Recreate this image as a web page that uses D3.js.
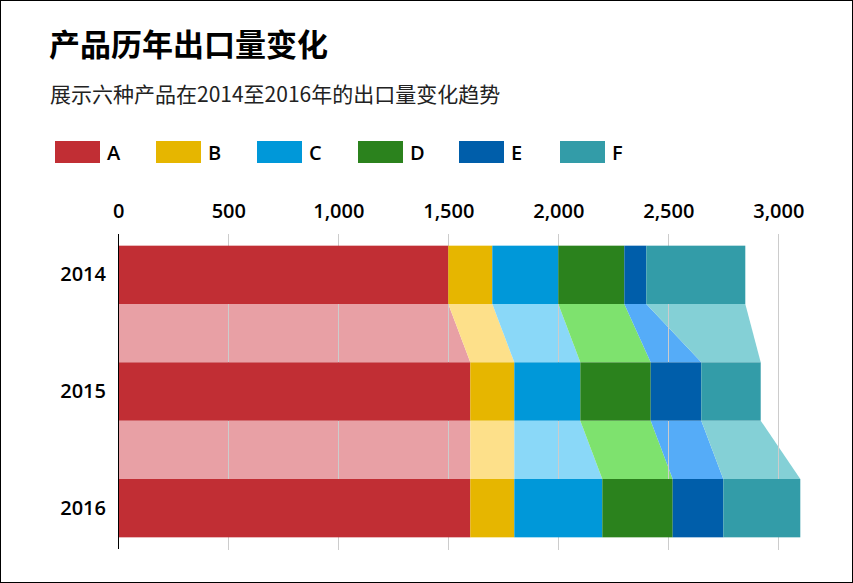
<!DOCTYPE html>
<html>
<head>
<meta charset="utf-8">
<script src="https://cdn.jsdelivr.net/npm/d3@7"></script>
<style>
html,body{margin:0;padding:0;background:#fff;}
svg{display:block;}
</style>
</head>
<body>
<svg id="chart" width="853" height="583"></svg>
<script>
const years = ["2014", "2015", "2016"];
const products = ["A", "B", "C", "D", "E", "F"];
const valuesA = [1500, 1600, 1600];
const valuesB = [200, 200, 200];
const valuesC = [300, 300, 400];
const valuesD = [300, 320, 320];
const valuesE = [100, 230, 230];
const valuesF = [450, 270, 350];
const barColors = ["#c12e34", "#e6b600", "#0098d9", "#2b821d", "#005eaa", "#339ca8"];
const linkColors = ["#e8a0a5", "#fde08a", "#8ad8f8", "#7ee26e", "#55acf8", "#84d0d6"];
const xTicks = [0, 500, 1000, 1500, 2000, 2500, 3000];
const titleText = "产品历年出口量变化";
const subtitleText = "展示六种产品在2014至2016年的出口量变化趋势";

const seriesValues = [valuesA, valuesB, valuesC, valuesD, valuesE, valuesF];
const table = years.map((y, i) => {
  const row = {year: y};
  products.forEach((p, j) => row[p] = seriesValues[j][i]);
  return row;
});
const stacked = d3.stack().keys(products)(table);

const svg = d3.select("#chart");
const W = 853, H = 583;
svg.append("rect").attr("x", 0.5).attr("y", 0.5).attr("width", W - 1).attr("height", H - 1)
  .attr("fill", "#fff").attr("stroke", "#000").attr("stroke-width", 1);

const cjk = "'Noto Sans CJK SC', 'Noto Sans', sans-serif";
const latin = "'Open Sans', sans-serif";

svg.append("text").attr("x", 49).attr("y", 56).text(titleText)
  .attr("font-family", cjk).attr("font-size", 31).attr("font-weight", 700).attr("fill", "#000");
svg.append("text").attr("x", 50).attr("y", 102).text(subtitleText)
  .attr("font-family", cjk).attr("font-size", 21).attr("fill", "#222");

// legend
const legend = svg.append("g");
products.forEach((p, i) => {
  const g = legend.append("g").attr("transform", `translate(${55 + i * 101},141)`);
  g.append("rect").attr("width", 45).attr("height", 22).attr("fill", barColors[i]);
  g.append("text").attr("x", 52).attr("y", 18.5).text(p)
    .attr("font-family", latin).attr("font-size", 20).attr("font-weight", 600).attr("fill", "#000");
});

const x = d3.scaleLinear().domain([0, 3000]).range([118.3, 778.3]);
const y = d3.scaleBand().domain(years).range([234, 549]).paddingInner(0.5).paddingOuter(0.1);
const bw = y.bandwidth();

// links
const links = svg.append("g");
stacked.forEach((s, j) => {
  for (let i = 0; i < years.length - 1; i++) {
    const a = s[i], b = s[i + 1];
    const y0 = y(years[i]) + bw, y1 = y(years[i + 1]);
    const pts = [[x(a[0]), y0], [x(a[1]), y0], [x(b[1]), y1], [x(b[0]), y1]];
    links.append("path").attr("d", d3.line()(pts) + "Z").attr("fill", linkColors[j]);
  }
});

// grid
const grid = svg.append("g");
xTicks.slice(1).forEach(t => {
  grid.append("line").attr("x1", Math.round(x(t)) + 0.5).attr("x2", Math.round(x(t)) + 0.5)
    .attr("y1", 234).attr("y2", 550).attr("stroke", "#cccccc").attr("stroke-width", 1);
});

// bars
const bars = svg.append("g");
stacked.forEach((s, j) => {
  bars.selectAll(null).data(s).enter().append("rect")
    .attr("x", d => x(d[0]))
    .attr("y", d => y(d.data.year))
    .attr("width", d => x(d[1]) - x(d[0]))
    .attr("height", bw)
    .attr("fill", barColors[j]);
});

// x axis (top)
const xAxis = d3.axisTop(x).tickValues(xTicks).tickFormat(d3.format(",")).tickSize(0).tickPadding(0);
const gx = svg.append("g").attr("transform", "translate(0,218)").call(xAxis);
gx.select(".domain").remove();
gx.selectAll("text").attr("font-family", latin).attr("font-size", 20).attr("font-weight", 600).attr("fill", "#000").attr("dy", 0);

// y axis
const yAxis = d3.axisLeft(y).tickSize(0).tickPadding(12);
const gy = svg.append("g").attr("transform", "translate(118,0)").call(yAxis);
gy.select(".domain").remove();
gy.selectAll("text").attr("font-family", latin).attr("font-size", 20).attr("font-weight", 600).attr("fill", "#000");
svg.append("line").attr("x1", 118.5).attr("x2", 118.5).attr("y1", 234).attr("y2", 549)
  .attr("stroke", "#000").attr("stroke-width", 1);
</script>
</body>
</html>
